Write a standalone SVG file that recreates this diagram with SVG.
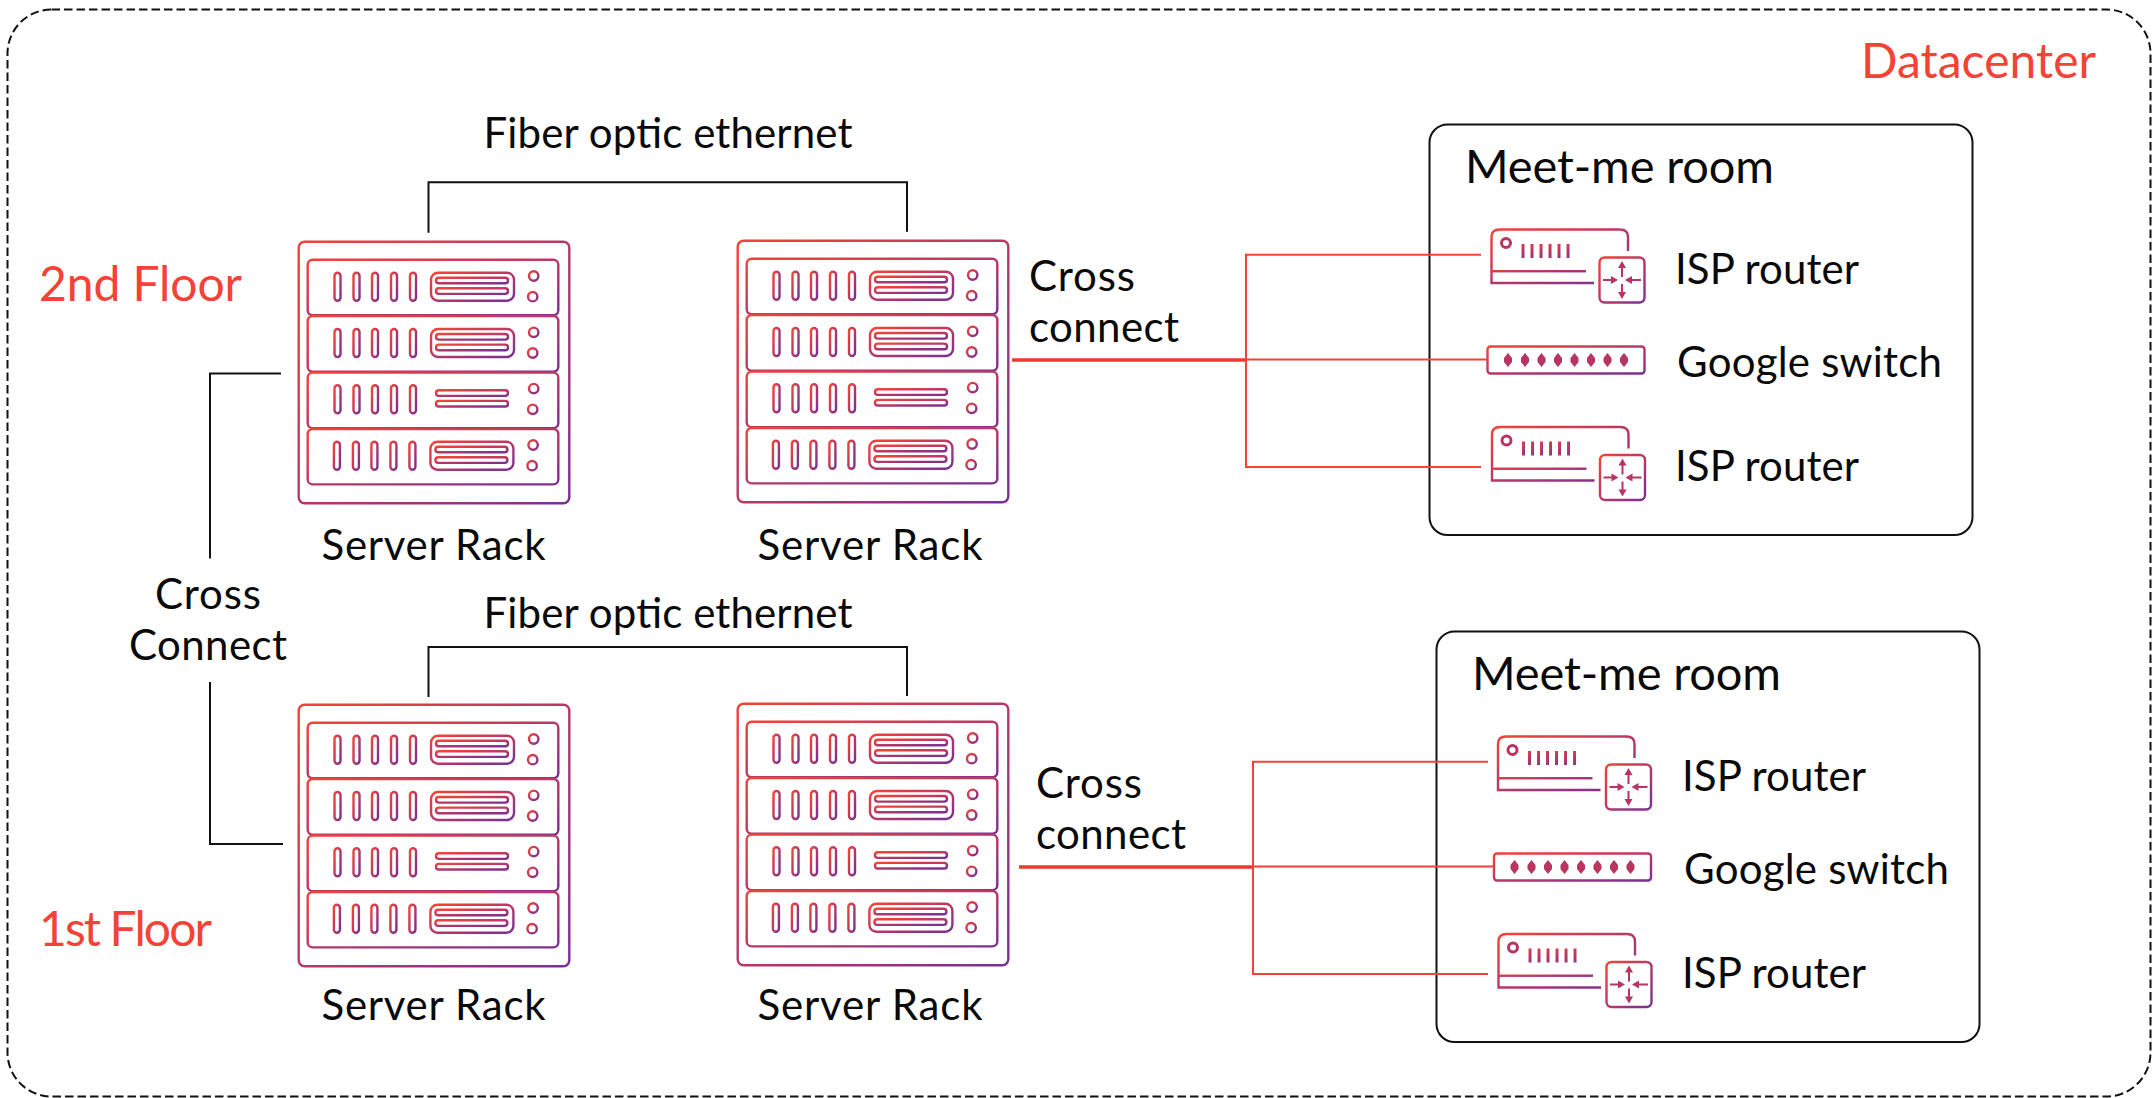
<svg xmlns="http://www.w3.org/2000/svg" width="2155" height="1098" viewBox="0 0 2155 1098">
<style>
text{font-family:"Lato","Liberation Sans",sans-serif;font-size:42px;fill:#0a0a0a}
.title{font-size:47px}
.red{font-size:48px;fill:#f44336}
.ic{fill:none;stroke:url(#g);stroke-width:2.400}
.fl{fill:url(#g);stroke:none}
.ar{fill:#b7355f;stroke:none}
.blk{fill:none;stroke:#111;stroke-width:2}
.rl{fill:none;stroke:#f44336;stroke-width:2}
.rt{fill:none;stroke:#f0392f;stroke-width:3.500}
.room{fill:#fff;stroke:#111;stroke-width:2}
</style>
<defs>
<linearGradient id="g" x1="0" y1="0" x2="1" y2="1"><stop offset="0" stop-color="#f44336"/><stop offset="1" stop-color="#7b2f96"/></linearGradient>
<g id="slots" class="ic">
<rect x="334.500" y="272.700" width="6" height="28" rx="3"/><rect x="353.500" y="272.700" width="6" height="28" rx="3"/><rect x="372" y="272.700" width="6" height="28" rx="3"/><rect x="391" y="272.700" width="6" height="28" rx="3"/><rect x="410" y="272.700" width="6" height="28" rx="3"/>
<rect x="436" y="277.700" width="72" height="5.600" rx="2.800"/><rect x="436" y="288.300" width="72" height="5.600" rx="2.800"/>
<circle cx="533.700" cy="276" r="4.700"/><circle cx="532.700" cy="296.700" r="4.700"/>
</g>
<rect id="bay" class="ic" x="431" y="272.700" width="83" height="28" rx="7"/>
<g id="rack">
<rect class="ic" x="298.700" y="241.700" width="270.600" height="261.600" rx="6"/>
<rect class="ic" x="307.700" y="259.700" width="250.600" height="55.600" rx="5"/><rect class="ic" x="307.700" y="316" width="250.600" height="55.800" rx="5"/><rect class="ic" x="307.700" y="372.600" width="250.600" height="55.600" rx="5"/><rect class="ic" x="307.700" y="429" width="250.600" height="55.400" rx="5"/>
<use href="#slots"/><use href="#bay"/>
<use href="#slots" y="56.300"/><use href="#bay" y="56.300"/>
<use href="#slots" y="112.600"/>
<use href="#slots" x="-0.600" y="169"/><use href="#bay" x="-0.600" y="169"/>
</g>
<g id="router">
<path class="ic" d="M1628 251V237Q1628 229.500 1620 229.500H1499.500Q1491.500 229.500 1491.500 237V283H1594"/>
<rect class="fl" x="1491" y="270" width="95" height="2.400"/>
<circle cx="1506" cy="243" r="4.500" fill="none" stroke="#b7355f" stroke-width="3"/>
<rect class="fl" x="1521.500" y="244" width="3" height="14"/><rect class="fl" x="1530.500" y="244" width="3" height="14"/><rect class="fl" x="1539.500" y="244" width="3" height="14"/><rect class="fl" x="1548.500" y="244" width="3" height="14"/><rect class="fl" x="1557.500" y="244" width="3" height="14"/><rect class="fl" x="1566.500" y="244" width="3" height="14"/>
<rect class="ic" x="1599.500" y="257.500" width="45" height="45" rx="5"/>
<path class="ar" d="M1622 261l4 7h-3v9h-2v-9h-3zM1622 299l4-7h-3v-8h-2v8h-3zM1618 280l-7-4v3h-8v2h8v3zM1625 280l7-4v3h9v2h-9v3z"/>
</g>
<g id="switch">
<rect class="ic" x="1487.500" y="346.500" width="157" height="27" rx="3"/>
<path class="ar" d="M1508 353l4 5v4l-4 5l-4-5v-4zM1525 353l4 5v4l-4 5l-4-5v-4zM1541.500 353l4 5v4l-4 5l-4-5v-4zM1558 353l4 5v4l-4 5l-4-5v-4zM1574.500 353l4 5v4l-4 5l-4-5v-4zM1591 353l4 5v4l-4 5l-4-5v-4zM1607.500 353l4 5v4l-4 5l-4-5v-4zM1624 353l4 5v4l-4 5l-4-5v-4z"/>
</g>
</defs>
<rect width="2155" height="1098" fill="#fff"/>
<g id="datacenter">
<rect x="7.500" y="9.500" width="2143" height="1087" rx="44" fill="none" stroke="#111" stroke-width="2" stroke-dasharray="8.500 4"/>
<text class="red" x="1861" y="78" textLength="235">Datacenter</text>
</g>
<text class="red" x="39" y="301" textLength="203">2nd Floor</text>
<text class="red" x="39" y="946" textLength="173">1st Floor</text>
<g id="room-2f">
<rect class="room" x="1429.500" y="124.500" width="543" height="410.500" rx="18"/>
<text class="title" x="1465" y="183" textLength="309">Meet-me room</text>
</g>
<g id="room-1f">
<rect class="room" x="1436.500" y="631.500" width="543" height="410.500" rx="18"/>
<text class="title" x="1472" y="690" textLength="309">Meet-me room</text>
</g>
<g id="connectors">
<path class="blk" d="M428.500 232.700V182.300H907V231.700"/>
<path class="blk" d="M428.500 697V647H907V696"/>
<path class="blk" d="M281 373.600H210V558.600"/>
<path class="blk" d="M210 682V844H283"/>
<path class="rt" d="M1012 360H1246"/>
<path class="rl" d="M1481 254.700H1246V467H1481M1246 359.500H1487"/>
<path class="rt" d="M1019 867H1253"/>
<path class="rl" d="M1488 761.700H1253V974H1488M1253 866.500H1494"/>
</g>
<g id="rack-2f-a"><use href="#rack"/><text x="321.500" y="559.500" textLength="224">Server Rack</text></g>
<g id="rack-2f-b"><use href="#rack" x="439" y="-1"/><text x="757.500" y="559.500" textLength="225">Server Rack</text></g>
<g id="rack-1f-a"><use href="#rack" y="463"/><text x="321.500" y="1019.500" textLength="224">Server Rack</text></g>
<g id="rack-1f-b"><use href="#rack" x="439" y="462"/><text x="757.500" y="1019.500" textLength="225">Server Rack</text></g>
<g id="router-2f-a"><use href="#router"/><text x="1675" y="283.500" textLength="184">ISP router</text></g>
<g id="switch-2f"><use href="#switch"/><text x="1677" y="376.500" textLength="265">Google switch</text></g>
<g id="router-2f-b"><use href="#router" x="0.500" y="197.500"/><text x="1675" y="480.500" textLength="184">ISP router</text></g>
<g id="router-1f-a"><use href="#router" x="6.500" y="507"/><text x="1682" y="790.500" textLength="184">ISP router</text></g>
<g id="switch-1f"><use href="#switch" x="6.500" y="507"/><text x="1684" y="883.500" textLength="265">Google switch</text></g>
<g id="router-1f-b"><use href="#router" x="7" y="704.500"/><text x="1682" y="987.500" textLength="184">ISP router</text></g>
<g id="label-fiber-2f"><text x="483.500" y="148" textLength="369">Fiber optic ethernet</text></g>
<g id="label-fiber-1f"><text x="483.500" y="627.700" textLength="369">Fiber optic ethernet</text></g>
<g id="label-cross-v"><text x="155" y="609.300" textLength="106">Cross</text><text x="129" y="660" textLength="158">Connect</text></g>
<g id="label-cross-2f"><text x="1029" y="291.300" textLength="106">Cross</text><text x="1029" y="342.300" textLength="150">connect</text></g>
<g id="label-cross-1f"><text x="1036" y="798.300" textLength="106">Cross</text><text x="1036" y="849.300" textLength="150">connect</text></g>
</svg>
